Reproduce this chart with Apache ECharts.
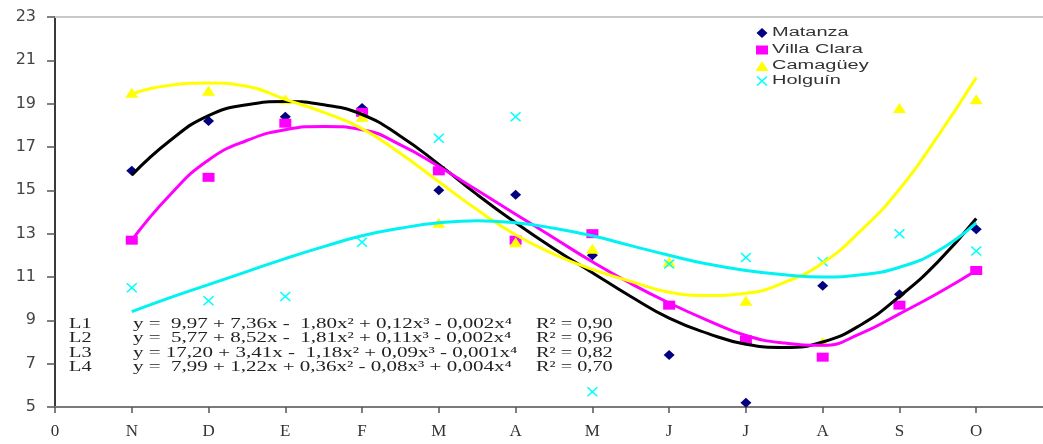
<!DOCTYPE html>
<html>
<head>
<meta charset="utf-8">
<script src="https://cdn.jsdelivr.net/npm/echarts@6/dist/echarts.min.js"></script>
<style>
  html, body { margin: 0; padding: 0; background: #fff; }
  #chart { width: 1043px; height: 444px; }
</style>
</head>
<body>
<div id="chart"></div>
<script>
// Months of the season (November to October), x = 1..12
const months = ['N', 'D', 'E', 'F', 'M', 'A', 'M', 'J', 'J', 'A', 'S', 'O'];
const xTickLabels = ['0'].concat(months);
const yTicks = [5, 7, 9, 11, 13, 15, 17, 19, 21, 23];

// Observed monthly values per province
const matanza    = [15.9, 18.2, 18.4, 18.8, 15.0, 14.8, 12.0, 7.4, 5.2, 10.6, 10.2, 13.2];
const villaClara = [12.7, 15.6, 18.1, 18.6, 15.9, 12.7, 13.0, 9.7, 8.1, 7.3, 9.7, 11.3];
const camaguey   = [19.5, 19.6, 19.2, 18.4, 13.5, 12.6, 12.3, 11.7, 9.9, 8.0, 18.8, 19.2];
const holguin    = [10.5, 9.9, 10.1, 12.6, 17.4, 18.4, 5.7, 11.6, 11.9, 11.7, 13.0, 12.2];

// Fourth-degree trend lines L1..L4, taken every half month from x = 1 to x = 12
const trendX  = [1, 1.5, 2, 2.5, 3, 3.5, 4, 4.5, 5, 5.5, 6, 6.5, 7, 7.5, 8, 8.5, 9, 9.5, 10, 10.5, 11, 11.5, 12];
const trendL1 = [15.7, 17.3, 18.45, 18.95, 19.1, 18.95, 18.5, 17.5, 16.2, 14.8, 13.5, 12.3, 11.2, 10.1, 9.1, 8.4, 7.9, 7.75, 8.0, 8.8, 10.1, 11.7, 13.7];
const trendL2 = [12.7, 14.8, 16.4, 17.3, 17.8, 17.95, 17.8, 17.1, 16.1, 15.0, 13.9, 12.8, 11.7, 10.7, 9.8, 9.0, 8.3, 7.95, 7.85, 8.4, 9.3, 10.25, 11.3];
const trendL3 = [19.45, 19.85, 19.95, 19.8, 19.2, 18.6, 17.85, 16.7, 15.4, 14.1, 12.95, 12.05, 11.35, 10.8, 10.3, 10.15, 10.25, 10.75, 11.65, 13.15, 15.05, 17.5, 20.2];
const trendL4 = [9.4, 10.05, 10.65, 11.25, 11.85, 12.4, 12.9, 13.25, 13.5, 13.6, 13.5, 13.25, 12.9, 12.45, 12.0, 11.6, 11.3, 11.1, 11.0, 11.1, 11.45, 12.2, 13.5];

// Regression equations printed under the curves
const eqNames = ['L1', 'L2', 'L3', 'L4'];
const eqFormulas = [
  'y =  9,97 + 7,36x -  1,80x\u00b2 + 0,12x\u00b3 - 0,002x\u2074',
  'y =  5,77 + 8,52x -  1,81x\u00b2 + 0,11x\u00b3 - 0,002x\u2074',
  'y = 17,20 + 3,41x -  1,18x\u00b2 + 0,09x\u00b3 - 0,001x\u2074',
  'y =  7,99 + 1,22x + 0,36x\u00b2 - 0,08x\u00b3 + 0,004x\u2074'
];
const eqR2 = ['R\u00b2 = 0,90', 'R\u00b2 = 0,96', 'R\u00b2 = 0,82', 'R\u00b2 = 0,70'];

const seriesNames = ['Matanza', 'Villa Clara', 'Camag\u00fcey', 'Holgu\u00edn'];
const markerColors = ['#000080', '#ff00ff', '#ffff00', '#00ffff'];
const lineColors = ['#000000', '#ff00ff', '#ffff00', '#00f2f2'];
const xMark = 'path://M0,1L1,0L5,4L9,0L10,1L6,5L10,9L9,10L5,6L1,10L0,9L4,5Z';
const symbols = ['diamond', 'rect', 'triangle', xMark];
const symbolSizes = [[11, 10], [12, 9], [13, 10], [11, 10]];

const observed = [matanza, villaClara, camaguey, holguin];
const trends = [trendL1, trendL2, trendL3, trendL4];

const monthPairs = arr => arr.map((v, i) => [i + 1, v]);
const trendPairs = arr => arr.map((v, i) => [trendX[i], v]);

const scatterSeries = observed.map((arr, k) => ({
  name: seriesNames[k],
  type: 'scatter',
  data: monthPairs(arr),
  symbol: symbols[k],
  symbolSize: symbolSizes[k],
  itemStyle: { color: markerColors[k], opacity: 1 },
  z: 2,
  silent: true
}));

const trendSeries = trends.map((arr, k) => ({
  name: eqNames[k],
  type: 'line',
  data: trendPairs(arr),
  smooth: 0.5,
  symbol: 'none',
  lineStyle: { color: lineColors[k], width: 3 },
  z: 3,
  silent: true
}));

// Equation block
const serif = '"Liberation Serif", "Times New Roman", serif';
const sans = '"Liberation Sans", Arial, sans-serif';
const eqRowY = [324, 338.5, 353, 367.5];
const graphics = [];
eqNames.forEach((name, i) => {
  graphics.push({ type: 'text', x: 69, y: eqRowY[i], scaleX: 1.45,
    style: { text: name, font: '14px ' + serif, fill: '#222', verticalAlign: 'middle' } });
  graphics.push({ type: 'text', x: 133, y: eqRowY[i], scaleX: 1.5,
    style: { text: eqFormulas[i], font: '14px ' + serif, fill: '#222', verticalAlign: 'middle' } });
  graphics.push({ type: 'text', x: 536, y: eqRowY[i], scaleX: 1.45,
    style: { text: eqR2[i], font: '14px ' + serif, fill: '#222', verticalAlign: 'middle' } });
});

// Key in the upper right corner
const keyRowY = [33, 50, 66, 81];
const xOutline = [[0, 1], [1, 0], [5, 4], [9, 0], [10, 1], [6, 5], [10, 9], [9, 10], [5, 6], [1, 10], [0, 9], [4, 5]];
const keyShapes = [
  { type: 'polygon', shape: { points: [[762, 28], [767.5, 33], [762, 38], [756.5, 33]] } },
  { type: 'rect', shape: { x: 756, y: 45.5, width: 12, height: 9 } },
  { type: 'polygon', shape: { points: [[762, 61], [768.5, 71], [755.5, 71]] } },
  { type: 'polygon', shape: { points: xOutline.map(p => [756.5 + p[0] * 1.1, 76 + p[1]]) } }
];
keyShapes.forEach((s, i) => {
  graphics.push(Object.assign({}, s, { style: { fill: markerColors[i] } }));
  graphics.push({ type: 'text', x: 772, y: keyRowY[i], scaleX: 1.6,
    style: { text: seriesNames[i], font: '12.5px ' + sans, fill: '#333', verticalAlign: 'middle' } });
});

const chart = echarts.init(document.getElementById('chart'), null, { renderer: 'canvas' });
chart.setOption({
  animation: false,
  backgroundColor: '#ffffff',
  grid: { left: 55, right: -10, top: 17, bottom: 37, outerBoundsMode: 'none' },
  xAxis: [{
    type: 'value',
    min: 0, max: 13, interval: 1,
    axisLine: { show: true, lineStyle: { color: '#7a7a7a', width: 2 } },
    axisTick: { show: true, length: 6, lineStyle: { color: '#555', width: 1.5 } },
    axisLabel: {
      margin: 16,
      fontFamily: serif, fontSize: 17, color: '#333',
      formatter: v => (Number.isInteger(v) && v < xTickLabels.length) ? xTickLabels[v] : ''
    },
    splitLine: { show: false }
  }, {
    type: 'value', position: 'top',
    min: 0, max: 13, interval: 1,
    axisLine: { show: true, lineStyle: { color: '#c8c8c8', width: 2 } },
    axisTick: { show: false }, axisLabel: { show: false }, splitLine: { show: false }
  }],
  yAxis: {
    type: 'value',
    min: yTicks[0], max: yTicks[yTicks.length - 1], interval: 2,
    axisLine: { show: true, lineStyle: { color: '#3a3a3a', width: 2 } },
    axisTick: { show: true, length: 8, lineStyle: { color: '#555', width: 1.5 } },
    axisLabel: { margin: 19, fontFamily: '"DejaVu Sans", Verdana, sans-serif', fontSize: 16, color: '#444' },
    splitLine: { show: false }
  },
  series: scatterSeries.concat(trendSeries),
  graphic: graphics
});
</script>
</body>
</html>
